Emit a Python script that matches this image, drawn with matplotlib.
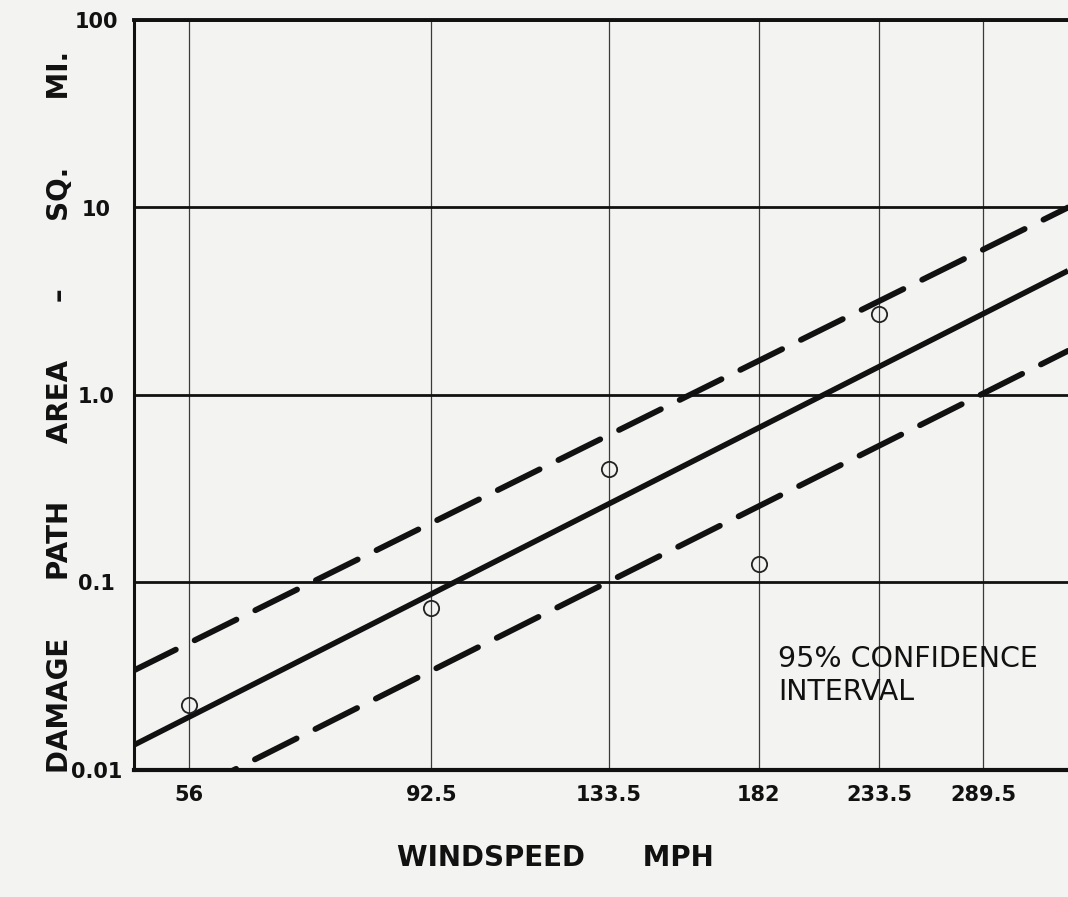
import matplotlib
matplotlib.use("Agg")
import matplotlib.pyplot as plt
from matplotlib import font_manager
from matplotlib.ticker import FixedLocator, NullLocator, FixedFormatter

# ---- data ----
windspeed_ticks = [56, 92.5, 133.5, 182, 233.5, 289.5]
windspeed_labels = ["56", "92.5", "133.5", "182", "233.5", "289.5"]
area_ticks = [0.01, 0.1, 1.0, 10, 100]
area_labels = ["0.01", "0.1", "1.0", "10", "100"]

obs_speed = [56, 92.5, 133.5, 182, 233.5]
obs_area = [0.0222, 0.0733, 0.405, 0.126, 2.72]

line_speed = [50, 345]
fit_area = [0.0136, 4.6]
upper_area = [0.034, 10.0]
lower_area = [0.0054, 1.72]

# ---- fonts ----
names = {f.name for f in font_manager.fontManager.ttflist}
if "Liberation Sans Narrow" in names:
    FONT = "Liberation Sans Narrow"
    tick_fs, lab_fs, note_fs = 18, 25, 24
else:
    FONT = "DejaVu Sans"
    tick_fs, lab_fs, note_fs = 15, 20, 20.5
plt.rcParams["font.family"] = [FONT, "DejaVu Sans"]

BG = "#f3f3f1"
INK = "#111111"

fig = plt.figure(figsize=(10.68, 8.97), dpi=100, facecolor=BG)
W, H = 1068, 897
ax_l, ax_r, ax_t, ax_b = 134, 1068, 20, 770
ax = fig.add_axes([ax_l / W, (H - ax_b) / H, (ax_r - ax_l) / W, (ax_b - ax_t) / H])
ax.set_facecolor(BG)
ax.set_xscale("log")
ax.set_yscale("log")
ax.set_xlim(50, 345)
ax.set_ylim(0.01, 100)

# grid
ax.xaxis.set_major_locator(FixedLocator(windspeed_ticks))
ax.xaxis.set_major_formatter(FixedFormatter(windspeed_labels))
ax.xaxis.set_minor_locator(NullLocator())
ax.yaxis.set_major_locator(FixedLocator(area_ticks))
ax.yaxis.set_major_formatter(FixedFormatter(area_labels))
ax.yaxis.set_minor_locator(NullLocator())
ax.xaxis.grid(True, color="#3a3a3a", lw=0.9)
ax.yaxis.grid(True, color=INK, lw=2.0)
ax.set_axisbelow(True)

ax.tick_params(axis="both", length=0, labelsize=tick_fs, colors=INK)
ax.tick_params(axis="x", pad=11)
ax.tick_params(axis="y", pad=27)
for lab in ax.get_yticklabels():
    lab.set_horizontalalignment("center")
    lab.set_fontweight("semibold")
for lab in ax.get_xticklabels():
    lab.set_fontweight("semibold")

for side in ["left", "top", "bottom"]:
    ax.spines[side].set_color(INK)
ax.spines["left"].set_linewidth(2.2)
ax.spines["top"].set_linewidth(2.8)
ax.spines["bottom"].set_linewidth(3.0)
ax.spines["right"].set_visible(False)

# lines
ax.plot(line_speed, fit_area, color=INK, lw=4.0, solid_capstyle="butt", zorder=3)
for ys in (upper_area, lower_area):
    ax.plot(line_speed, ys, color=INK, lw=4.2, linestyle=(0, (8, 3.6)),
            dash_capstyle="round", zorder=3)

# observations
ax.plot(obs_speed, obs_area, linestyle="none", marker="o", ms=11, mfc="none",
        mec="#222222", mew=1.3, zorder=4)

# labels
ax.set_xlabel("WINDSPEED      MPH", fontsize=lab_fs, fontweight="bold",
              color=INK, x=(555 - ax_l) / (ax_r - ax_l), labelpad=28)
ax.set_ylabel("DAMAGE      PATH      AREA      \u2013       SQ.       MI.", fontsize=lab_fs,
              fontweight="bold", color=INK)
ax.yaxis.set_label_coords((74 - ax_l) / (ax_r - ax_l), (ax_b - 412) / (ax_b - ax_t))

ax.text((778 - ax_l) / (ax_r - ax_l), (ax_b - 645) / (ax_b - ax_t),
        "95% CONFIDENCE\nINTERVAL", transform=ax.transAxes, ha="left", va="top",
        fontsize=note_fs, color=INK, linespacing=1.25)

fig.savefig("out.png", dpi=100, facecolor=BG)
